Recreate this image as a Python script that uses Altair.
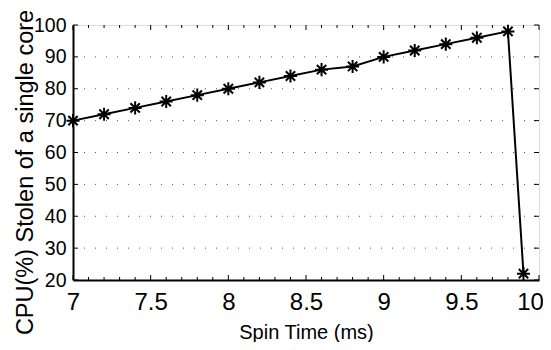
import altair as alt
import pandas as pd

# Data series
spin_time = [7.0, 7.2, 7.4, 7.6, 7.8, 8.0, 8.2, 8.4, 8.6, 8.8, 9.0, 9.2, 9.4, 9.6, 9.8, 9.9]
cpu_stolen = [70, 72, 74, 76, 78, 80, 82, 84, 86, 87, 90, 92, 94, 96, 98, 22]

# Axis tick values
x_major = [7.0, 7.5, 8.0, 8.5, 9.0, 9.5, 10.0]
x_minor = [7.1, 7.2, 7.3, 7.4, 7.6, 7.7, 7.8, 7.9, 8.1, 8.2, 8.3, 8.4, 8.6, 8.7, 8.8, 8.9,
           9.1, 9.2, 9.3, 9.4, 9.6, 9.7, 9.8, 9.9]
y_major = [20, 30, 40, 50, 60, 70, 80, 90, 100]
y_grid = [30, 40, 50, 60, 70, 80, 90]

W, H = 466, 255
FONT = "Liberation Sans"

df = pd.DataFrame({"x": spin_time, "y": cpu_stolen})
xmaj = pd.DataFrame({"x": x_major})
xmin = pd.DataFrame({"x": x_minor})
ymaj = pd.DataFrame({"y": y_major})
ygrd = pd.DataFrame({"y": y_grid})

xscale = alt.Scale(domain=[7, 10], nice=False, zero=False)
yscale = alt.Scale(domain=[20, 100], nice=False, zero=False)

xaxis = alt.Axis(title="Spin Time (ms)", values=x_major, labelExpr="datum.value",
                 grid=False, ticks=False, domain=True, domainWidth=2, domainColor="black",
                 labelFontSize=24, labelPadding=10, labelColor="black", labelFont=FONT,
                 labelOffset={"condition": {"test": "datum.value == 10", "value": -9}, "value": 0},
                 titleFontSize=20, titleFont=FONT, titleFontWeight="normal",
                 titleColor="black", titleY=58, titleBaseline="alphabetic", labelFlush=False)
yaxis = alt.Axis(title="CPU(%) Stolen of a single core", values=y_major,
                 grid=False, ticks=False, domain=True, domainWidth=2, domainColor="black",
                 labelFontSize=19.5, labelPadding=7, labelColor="black", labelFont=FONT,
                 titleFontSize=23.5, titleFont=FONT, titleFontWeight="normal",
                 titleColor="black", titleX=-41, titleY=147,
                 titleBaseline="alphabetic", titleAlign="center", titleAngle=270)

X = alt.X("x:Q", scale=xscale, axis=xaxis)
Y = alt.Y("y:Q", scale=yscale, axis=yaxis)

asterisk = "M-1,0L1,0M0,-1L0,1M-0.72,-0.72L0.72,0.72M-0.72,0.72L0.72,-0.72"

base = alt.Chart(df).encode(x=X, y=Y)

grid = alt.Chart(ygrd).mark_rule(
    color="#555555", strokeDash=[1, 10], strokeWidth=1
).encode(y=Y, x=alt.value(0), x2=alt.value(W))

line = base.mark_line(color="black", strokeWidth=2)
pts = base.mark_point(shape=asterisk, size=170, filled=False, color="black", strokeWidth=2, opacity=1)

def xt(data, length, top):
    c = alt.Chart(data).mark_rule(color="black", strokeWidth=1)
    if top:
        return c.encode(x=X, y=alt.value(0), y2=alt.value(length))
    return c.encode(x=X, y=alt.value(H), y2=alt.value(H - length))

def yt(data, length, right):
    c = alt.Chart(data).mark_rule(color="black", strokeWidth=1)
    if right:
        return c.encode(y=Y, x=alt.value(W), x2=alt.value(W - length))
    return c.encode(y=Y, x=alt.value(0), x2=alt.value(length))

chart = alt.layer(
    grid,
    xt(xmaj, 5, False), xt(xmin, 3, False), xt(xmaj, 5, True), xt(xmin, 3, True),
    yt(ymaj, 5, False), yt(ymaj, 5, True),
    line, pts,
).properties(
    width=W, height=H,
    autosize=alt.AutoSizeParams(type="none"),
    padding={"left": 65, "top": 17, "right": 4, "bottom": 62},
).configure_view(stroke="black", strokeWidth=1).configure(background="white")

chart.save("out.html", embed_options={"renderer": "svg", "actions": False})
